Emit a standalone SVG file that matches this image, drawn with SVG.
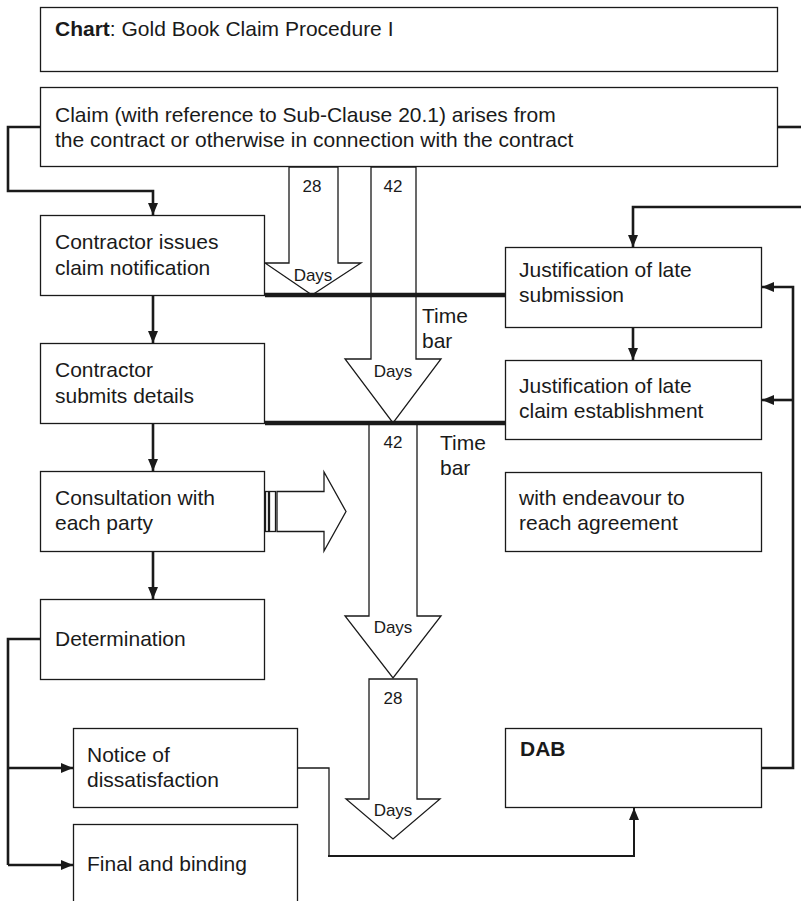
<svg xmlns="http://www.w3.org/2000/svg" width="801" height="901" viewBox="0 0 801 901">
<defs>
<marker id="ah" markerWidth="12" markerHeight="10" refX="12" refY="5" orient="auto" markerUnits="userSpaceOnUse"><path d="M0,0 L12,5 L0,10 z" fill="#1a1a1a"/></marker>
<style>
.box{fill:#fff;stroke:#1a1a1a;stroke-width:1.3}
.t{font-family:"Liberation Sans",Arial,Helvetica,sans-serif;font-size:21px;fill:#1a1a1a}
.s{font-family:"Liberation Sans",Arial,Helvetica,sans-serif;font-size:17px;fill:#1a1a1a;text-anchor:middle}
.c{fill:none;stroke:#1a1a1a;stroke-width:2.6}
.m{fill:none;stroke:#1a1a1a;stroke-width:2}
.thin{fill:none;stroke:#1a1a1a;stroke-width:1.3}
.bar{fill:none;stroke:#1a1a1a;stroke-width:4.5}
.blk{fill:#fff;stroke:#1a1a1a;stroke-width:1.3;stroke-linejoin:miter}
</style>
</defs>
<rect width="801" height="901" fill="#fff"/>

<g id="title"><rect class="box" x="40.5" y="7.5" width="737" height="64"/><text class="t" x="55" y="36"><tspan font-weight="bold">Chart</tspan>: Gold Book Claim Procedure I</text></g>

<g id="claim"><rect class="box" x="40.5" y="87.5" width="737" height="79"/><text class="t" x="55" y="122">Claim (with reference to Sub-Clause 20.1) arises from</text><text class="t" x="55" y="147">the contract or otherwise in connection with the contract</text></g>

<g id="time-arrows">
<polygon class="blk" points="289,167 338,167 338,263 361,263 312,295 265,263 289,263"/>
<text class="s" x="312" y="192">28</text>
<text class="s" x="313" y="281">Days</text>
<polygon class="blk" points="371,167 416,167 416,359 441,359 393,423 345,359 371,359"/>
<text class="s" x="393" y="192">42</text>
<text class="s" x="393" y="377">Days</text>
<polygon class="blk" points="369,423 417,423 417,616 441,616 393,678 345,616 369,616"/>
<text class="s" x="393" y="448">42</text>
<text class="s" x="393" y="633">Days</text>
<polygon class="blk" points="369,679 417,679 417,799 440,799 393,839 346,799 369,799"/>
<text class="s" x="393" y="704">28</text>
<text class="s" x="393" y="816">Days</text>
</g>

<g id="timebars">
<line class="bar" x1="265" y1="295" x2="505" y2="295"/>
<line class="bar" x1="265" y1="423" x2="505" y2="423"/>
<text class="t" x="422" y="323">Time</text><text class="t" x="422" y="348">bar</text>
<text class="t" x="440" y="450">Time</text><text class="t" x="440" y="475">bar</text>
</g>

<g id="contractor-issues"><rect class="box" x="40.5" y="215.5" width="224" height="80"/><text class="t" x="55" y="249">Contractor issues</text><text class="t" x="55" y="275">claim notification</text></g>
<g id="contractor-submits"><rect class="box" x="40.5" y="343.5" width="224" height="80"/><text class="t" x="55" y="377">Contractor</text><text class="t" x="55" y="403">submits details</text></g>
<g id="consultation"><rect class="box" x="40.5" y="471.5" width="224" height="80"/><text class="t" x="55" y="505">Consultation with</text><text class="t" x="55" y="530">each party</text></g>
<g id="determination"><rect class="box" x="40.5" y="599.5" width="224" height="80"/><text class="t" x="55" y="646">Determination</text></g>
<g id="notice"><rect class="box" x="73.5" y="728.5" width="224" height="79"/><text class="t" x="87" y="762">Notice of</text><text class="t" x="87" y="787">dissatisfaction</text></g>
<g id="final"><rect class="box" x="73.5" y="824.5" width="224" height="90"/><text class="t" x="87" y="871">Final and binding</text></g>

<g id="just-submission"><rect class="box" x="505.5" y="247.5" width="256" height="80"/><text class="t" x="519" y="277">Justification of late</text><text class="t" x="519" y="302">submission</text></g>
<g id="just-establishment"><rect class="box" x="505.5" y="360.5" width="256" height="79"/><text class="t" x="519" y="393">Justification of late</text><text class="t" x="519" y="418">claim establishment</text></g>
<g id="endeavour"><rect class="box" x="505.5" y="472.5" width="256" height="79"/><text class="t" x="519" y="505">with endeavour to</text><text class="t" x="519" y="530">reach agreement</text></g>
<g id="dab"><rect class="box" x="505.5" y="728.5" width="256" height="79"/><text class="t" x="520" y="756" font-weight="bold">DAB</text></g>

<g id="striped-arrow">
<rect class="blk" x="265.5" y="491.5" width="3" height="40"/>
<rect class="blk" x="269.5" y="491.5" width="6" height="40"/>
<polygon class="blk" points="277,491.5 324,491.5 324,472 346,511.5 324,551 324,531.5 277,531.5"/>
</g>

<g id="connectors">
<path class="c" d="M40,127 H8 V191 H153 V215" marker-end="url(#ah)"/>
<path class="c" d="M777,127 H801"/>
<path class="c" d="M153,296 V343" marker-end="url(#ah)"/>
<path class="c" d="M153,424 V471" marker-end="url(#ah)"/>
<path class="c" d="M153,552 V599" marker-end="url(#ah)"/>
<path class="c" d="M40,639 H8 V865"/>
<path class="c" d="M8,768 H73" marker-end="url(#ah)"/>
<path class="c" d="M8,865 H73" marker-end="url(#ah)"/>
<path class="thin" d="M298,768 H329 V856"/>
<path class="m" d="M328,856 H634 V808" marker-end="url(#ah)"/>
<path class="c" d="M801,207 H633 V247" marker-end="url(#ah)"/>
<path class="c" d="M633,328 V360" marker-end="url(#ah)"/>
<path class="c" d="M762,768 H793 V287 H762" marker-end="url(#ah)"/>
<path class="c" d="M793,400 H762" marker-end="url(#ah)"/>
</g>
</svg>
